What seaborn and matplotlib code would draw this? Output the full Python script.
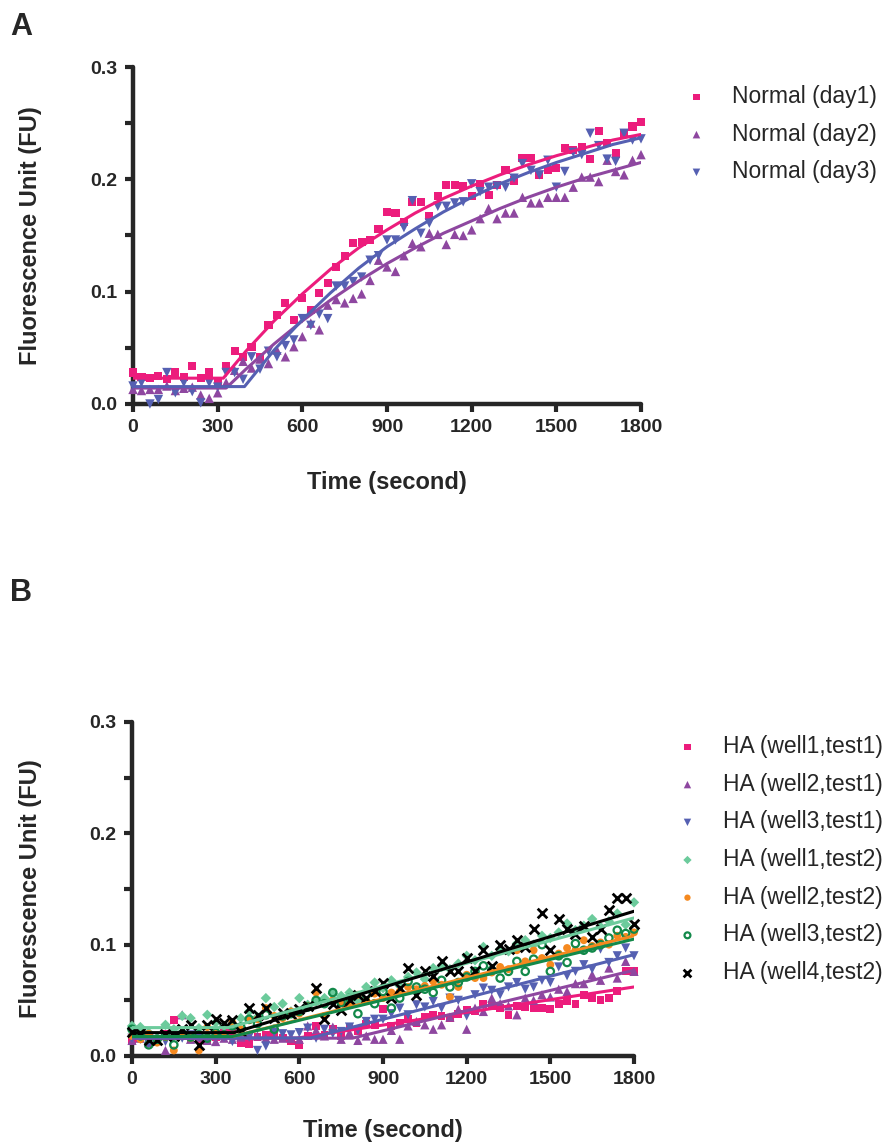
import matplotlib
matplotlib.use("Agg")
import matplotlib.pyplot as plt
import seaborn as sns
import pandas as pd
import numpy as np

# ---------------- data ----------------
time_s = list(range(0, 1801, 30))

# Panel A: measured points
normal_day1 = [0.028, 0.024, 0.023, 0.025, 0.022, 0.028, 0.024, 0.034, 0.023, 0.028,
               0.019, 0.034, 0.047, 0.042, 0.051, 0.042, 0.070, 0.079, 0.090, 0.075,
               0.094, 0.084, 0.099, 0.108, 0.122, 0.132, 0.143, 0.144, 0.146, 0.156,
               0.171, 0.170, 0.162, 0.180, 0.180, 0.167, 0.185, 0.195, 0.195, 0.194,
               0.185, 0.196, 0.186, 0.195, 0.208, 0.199, 0.219, 0.219, 0.204, 0.208,
               0.210, 0.228, 0.226, 0.229, 0.218, 0.243, 0.232, 0.223, 0.241, 0.247, 0.251]
normal_day2 = [0.013, 0.012, 0.013, 0.013, 0.016, 0.012, 0.014, 0.015, 0.008, 0.005,
               0.010, 0.019, 0.030, 0.038, 0.032, 0.040, 0.036, 0.048, 0.042, 0.051,
               0.060, 0.072, 0.066, 0.088, 0.093, 0.090, 0.094, 0.098, 0.110, 0.128,
               0.122, 0.118, 0.132, 0.143, 0.140, 0.152, 0.151, 0.142, 0.151, 0.150,
               0.155, 0.165, 0.174, 0.165, 0.170, 0.170, 0.184, 0.179, 0.179, 0.184,
               0.184, 0.184, 0.193, 0.202, 0.202, 0.198, 0.217, 0.207, 0.204, 0.217, 0.222]
normal_day3 = [0.016, 0.019, 0.000, 0.004, 0.028, 0.010, 0.019, 0.011, 0.001, 0.019,
               0.015, 0.028, 0.028, 0.022, 0.042, 0.031, 0.047, 0.042, 0.052, 0.057,
               0.076, 0.070, 0.080, 0.076, 0.105, 0.105, 0.109, 0.113, 0.128, 0.132,
               0.146, 0.146, 0.157, 0.181, 0.152, 0.161, 0.176, 0.176, 0.179, 0.180,
               0.196, 0.189, 0.193, 0.194, 0.193, 0.201, 0.214, 0.208, 0.204, 0.217,
               0.193, 0.207, 0.224, 0.222, 0.241, 0.230, 0.218, 0.216, 0.241, 0.235, 0.236]

# Panel A: fitted curves
fit_day1_t = [0, 320, 400, 500, 600, 700, 800, 900, 1000, 1100, 1200, 1300, 1400, 1500, 1600, 1700, 1800]
fit_day1_y = [0.023, 0.023, 0.047, 0.074, 0.098, 0.120, 0.139, 0.155, 0.170, 0.183, 0.194, 0.204, 0.213, 0.221, 0.228, 0.235, 0.240]
fit_day2_t = [0, 330, 400, 500, 600, 700, 800, 900, 1000, 1100, 1200, 1300, 1400, 1500, 1600, 1700, 1800]
fit_day2_y = [0.0142, 0.0142, 0.031, 0.0535, 0.074, 0.0925, 0.1095, 0.125, 0.139, 0.152, 0.163, 0.174, 0.184, 0.193, 0.201, 0.208, 0.215]
fit_day3_t = [0, 395, 500, 600, 700, 800, 900, 1000, 1100, 1200, 1300, 1400, 1500, 1600, 1700, 1800]
fit_day3_y = [0.0155, 0.0155, 0.048, 0.075, 0.099, 0.121, 0.140, 0.156, 0.171, 0.184, 0.196, 0.206, 0.215, 0.223, 0.231, 0.237]

# Panel B: measured points
ha_w1_t1 = [0.014, 0.016, 0.018, 0.015, 0.020, 0.032, 0.018, 0.016, 0.015, 0.013,
            0.017, 0.021, 0.021, 0.012, 0.011, 0.017, 0.019, 0.021, 0.016, 0.013,
            0.010, 0.018, 0.027, 0.019, 0.024, 0.018, 0.026, 0.022, 0.029, 0.028,
            0.042, 0.027, 0.030, 0.033, 0.030, 0.035, 0.037, 0.036, 0.034, 0.038,
            0.041, 0.040, 0.047, 0.045, 0.043, 0.037, 0.045, 0.044, 0.043, 0.043,
            0.042, 0.047, 0.049, 0.047, 0.055, 0.052, 0.050, 0.052, 0.058, 0.076, 0.076]
ha_w2_t1 = [0.014, 0.016, 0.012, 0.018, 0.005, 0.020, 0.037, 0.015, 0.017, 0.014,
            0.013, 0.016, 0.015, 0.017, 0.019, 0.018, 0.016, 0.015, 0.016, 0.016,
            0.015, 0.027, 0.023, 0.018, 0.026, 0.015, 0.021, 0.014, 0.018, 0.015,
            0.015, 0.023, 0.015, 0.027, 0.031, 0.028, 0.024, 0.028, 0.035, 0.042,
            0.024, 0.043, 0.040, 0.052, 0.047, 0.045, 0.037, 0.052, 0.050, 0.055,
            0.053, 0.060, 0.058, 0.065, 0.065, 0.073, 0.068, 0.079, 0.070, 0.085, 0.076]
ha_w3_t1 = [0.016, 0.015, 0.011, 0.014, 0.013, 0.018, 0.016, 0.019, 0.017, 0.015,
            0.018, 0.017, 0.013, 0.019, 0.017, 0.005, 0.009, 0.021, 0.020, 0.019,
            0.021, 0.025, 0.016, 0.024, 0.020, 0.022, 0.026, 0.023, 0.031, 0.033,
            0.033, 0.038, 0.043, 0.037, 0.046, 0.044, 0.049, 0.043, 0.052, 0.050,
            0.036, 0.055, 0.061, 0.059, 0.055, 0.062, 0.066, 0.060, 0.062, 0.068,
            0.066, 0.080, 0.072, 0.076, 0.082, 0.078, 0.096, 0.084, 0.090, 0.097, 0.090]
ha_w1_t2 = [0.027, 0.026, 0.021, 0.016, 0.028, 0.024, 0.036, 0.034, 0.025, 0.037,
            0.030, 0.027, 0.028, 0.034, 0.040, 0.035, 0.052, 0.044, 0.047, 0.040,
            0.052, 0.046, 0.049, 0.052, 0.056, 0.054, 0.057, 0.050, 0.062, 0.066,
            0.061, 0.068, 0.063, 0.071, 0.075, 0.069, 0.079, 0.080, 0.078, 0.083,
            0.090, 0.086, 0.098, 0.090, 0.096, 0.094, 0.101, 0.104, 0.100, 0.108,
            0.106, 0.111, 0.119, 0.113, 0.117, 0.123, 0.116, 0.121, 0.128, 0.118, 0.138]
ha_w2_t2 = [0.018, 0.015, 0.020, 0.012, 0.017, 0.005, 0.019, 0.016, 0.005, 0.026,
            0.020, 0.018, 0.030, 0.024, 0.032, 0.033, 0.043, 0.036, 0.034, 0.040,
            0.038, 0.045, 0.057, 0.036, 0.050, 0.048, 0.047, 0.055, 0.050, 0.056,
            0.052, 0.057, 0.058, 0.062, 0.060, 0.063, 0.067, 0.064, 0.053, 0.062,
            0.073, 0.070, 0.070, 0.075, 0.080, 0.078, 0.095, 0.085, 0.095, 0.088,
            0.082, 0.092, 0.097, 0.095, 0.104, 0.099, 0.102, 0.100, 0.108, 0.107, 0.111]
ha_w3_t2 = [0.024, 0.018, 0.010, 0.015, 0.018, 0.010, 0.020, 0.017, 0.019, 0.016,
            0.021, 0.019, 0.027, 0.026, 0.033, 0.029, 0.037, 0.024, 0.036, 0.038,
            0.040, 0.044, 0.050, 0.047, 0.057, 0.048, 0.052, 0.038, 0.055, 0.047,
            0.058, 0.043, 0.052, 0.067, 0.062, 0.060, 0.057, 0.068, 0.062, 0.066,
            0.071, 0.076, 0.081, 0.077, 0.070, 0.076, 0.085, 0.076, 0.087, 0.100,
            0.076, 0.090, 0.084, 0.101, 0.095, 0.097, 0.100, 0.106, 0.113, 0.110, 0.114]
ha_w4_t2 = [0.022, 0.021, 0.014, 0.014, 0.020, 0.018, 0.024, 0.028, 0.010, 0.028,
            0.033, 0.030, 0.032, 0.022, 0.043, 0.037, 0.043, 0.034, 0.039, 0.038,
            0.042, 0.045, 0.061, 0.033, 0.047, 0.041, 0.050, 0.055, 0.052, 0.058,
            0.066, 0.052, 0.061, 0.079, 0.055, 0.076, 0.072, 0.085, 0.076, 0.076,
            0.088, 0.076, 0.095, 0.081, 0.100, 0.096, 0.104, 0.098, 0.114, 0.128,
            0.095, 0.123, 0.114, 0.110, 0.117, 0.107, 0.114, 0.131, 0.142, 0.142, 0.119]

# Panel B: fitted lines (breakpoint, then linear)
fitB_w1_t1 = ([0, 590, 1800], [0.016, 0.016, 0.062])
fitB_w2_t1 = ([0, 790, 1800], [0.016, 0.016, 0.077])
fitB_w3_t1 = ([0, 640, 1800], [0.0162, 0.0162, 0.091])
fitB_w1_t2 = ([0, 345, 1800], [0.0255, 0.0255, 0.124])
fitB_w2_t2 = ([0, 360, 1800], [0.0175, 0.0175, 0.108])
fitB_w3_t2 = ([0, 360, 1800], [0.0175, 0.0175, 0.105])
fitB_w4_t2 = ([0, 365, 1800], [0.021, 0.021, 0.130])

labels_A = ["Normal (day1)", "Normal (day2)", "Normal (day3)"]
labels_B = ["HA (well1,test1)", "HA (well2,test1)", "HA (well3,test1)",
            "HA (well1,test2)", "HA (well2,test2)", "HA (well3,test2)", "HA (well4,test2)"]
x_ticks = [0, 300, 600, 900, 1200, 1500, 1800]
y_ticks = [0.0, 0.1, 0.2, 0.3]

# ---------------- style ----------------
sns.set_style("ticks")
plt.rcParams['font.family'] = ['Liberation Sans', 'DejaVu Sans']

PINK = "#EC1C7C"
PURPLE = "#8E47A0"
BLUE = "#5560B2"
LGREEN = "#6CCB9C"
ORANGE = "#F5891F"
DGREEN = "#13894A"
BLACK = "#000000"

fig = plt.figure(figsize=(8.88, 11.44), dpi=100)
axA = fig.add_axes([133/888, 1-404/1144, 508/888, 337/1144])
axB = fig.add_axes([132/888, 1-1056/1144, 502/888, 334/1144])


def draw_series(ax, y, fit, color, marker, label, size=38, open_=False):
    df = pd.DataFrame({"t": time_s, "y": y})
    if open_:
        sns.scatterplot(data=df, x="t", y="y", ax=ax, marker=marker, s=size,
                        facecolors="none", edgecolor=color, linewidth=1.6,
                        label=label, clip_on=False, zorder=3)
    elif marker == "x":
        sns.scatterplot(data=df, x="t", y="y", ax=ax, marker=marker, s=size,
                        color=color, linewidth=2.0, label=label, clip_on=False, zorder=3)
    else:
        sns.scatterplot(data=df, x="t", y="y", ax=ax, marker=marker, s=size,
                        color=color, edgecolor="none", linewidth=0,
                        label=label, clip_on=False, zorder=3)
    dff = pd.DataFrame({"t": fit[0], "y": fit[1]})
    sns.lineplot(data=dff, x="t", y="y", ax=ax, color=color, linewidth=2.2,
                 sort=False, estimator=None, legend=False, zorder=4)


draw_series(axA, normal_day1, (fit_day1_t, fit_day1_y), PINK, "s", labels_A[0], size=34)
draw_series(axA, normal_day2, (fit_day2_t, fit_day2_y), PURPLE, "^", labels_A[1], size=46)
draw_series(axA, normal_day3, (fit_day3_t, fit_day3_y), BLUE, "v", labels_A[2], size=46)

draw_series(axB, ha_w1_t1, fitB_w1_t1, PINK, "s", labels_B[0], size=32)
draw_series(axB, ha_w2_t1, fitB_w2_t1, PURPLE, "^", labels_B[1], size=44)
draw_series(axB, ha_w3_t1, fitB_w3_t1, BLUE, "v", labels_B[2], size=44)
draw_series(axB, ha_w1_t2, fitB_w1_t2, LGREEN, "D", labels_B[3], size=28)
draw_series(axB, ha_w2_t2, fitB_w2_t2, ORANGE, "o", labels_B[4], size=32)
draw_series(axB, ha_w3_t2, fitB_w3_t2, DGREEN, "o", labels_B[5], size=28, open_=True)
draw_series(axB, ha_w4_t2, fitB_w4_t2, BLACK, "x", labels_B[6], size=48)

for ax in (axA, axB):
    ax.set_xlim(0, 1800)
    ax.set_ylim(0, 0.3)
    ax.set_xticks(x_ticks)
    ax.set_yticks(y_ticks)
    ax.set_yticks([0.05, 0.15, 0.25], minor=True)
    ax.set_xticklabels([str(v) for v in x_ticks], fontsize=14, fontweight="bold")
    ax.set_yticklabels(["%.1f" % v for v in y_ticks], fontsize=14, fontweight="bold")
    ax.tick_params(axis="both", which="major", length=6, width=3, direction="out", pad=5)
    ax.tick_params(axis="y", which="minor", length=6, width=3, direction="out")
    for side in ("top", "right"):
        ax.spines[side].set_visible(False)
    for side in ("left", "bottom"):
        ax.spines[side].set_linewidth(3.2)
        ax.spines[side].set_capstyle("round")
    ax.set_xlabel("Time (second)", fontsize=17, fontweight="bold")
    ax.set_ylabel("Fluorescence Unit (FU)", fontsize=17, fontweight="bold")
    ax.yaxis.set_label_coords(-0.18, 0.5)
    ax.xaxis.label.set_va("top")
    if ax.get_legend() is not None:
        ax.get_legend().remove()

axA.xaxis.set_label_coords(0.5, -0.20)
axB.xaxis.set_label_coords(0.5, -0.19)

hA, lA = axA.get_legend_handles_labels()
fig.legend(hA, lA, loc="upper left", bbox_to_anchor=(685/888, 1-85/1144),
           frameon=False, fontsize=16.5, handletextpad=1.07, labelspacing=0.64,
           markerscale=0.8, handlelength=1.0, borderaxespad=0, borderpad=0)
hB, lB = axB.get_legend_handles_labels()
fig.legend(hB, lB, loc="upper left", bbox_to_anchor=(676/888, 1-735/1144),
           frameon=False, fontsize=16.5, handletextpad=1.07, labelspacing=0.64,
           markerscale=0.8, handlelength=1.0, borderaxespad=0, borderpad=0)

fig.text(10/888, 1-12/1144, "A", fontsize=22, fontweight="bold", va="top", ha="left")
fig.text(10/888, 1-578/1144, "B", fontsize=22, fontweight="bold", va="top", ha="left")

fig.savefig("out.png", dpi=100)
